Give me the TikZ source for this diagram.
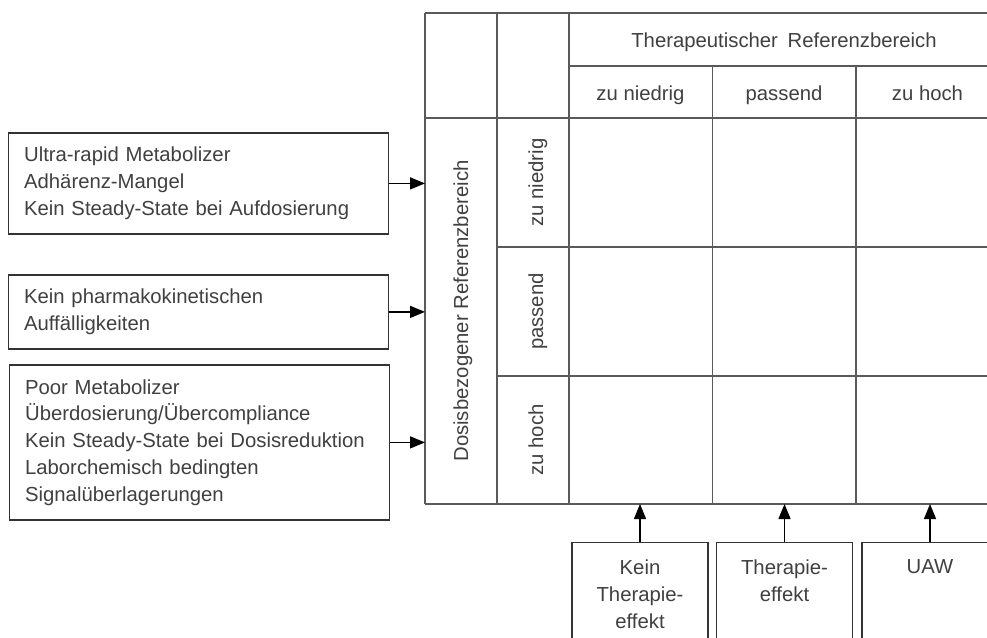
\documentclass[tikz,border=0pt]{standalone}
\usepackage{fontspec}
\setmainfont{Liberation Sans}
\usetikzlibrary{arrows.meta}
\definecolor{gridc}{HTML}{5A5A5A}
\definecolor{boxc}{HTML}{333333}
\definecolor{txtc}{HTML}{404040}
\newcommand{\dfs}{\fontsize{20.3}{26.7}\selectfont}
\begin{document}
\begin{tikzpicture}[x=1pt,y=-1pt,
  gridline/.style={draw=gridc, line width=1.6pt},
  lbox/.style={draw=boxc, line width=1.2pt, anchor=north west, text width=348pt,
    inner xsep=16pt, inner ysep=0pt, align=left, font=\dfs, text=txtc},
  bbox/.style={draw=boxc, line width=1.2pt, minimum width=136pt, minimum height=120pt,
    anchor=north, inner sep=0pt},
  txt/.style={text=txtc, font=\dfs, inner sep=0pt},
  arr/.style={draw=black, line width=1.4pt, -{Triangle[length=15pt,width=12pt]}}]
\useasboundingbox (0,0) rectangle (987,637);
\clip (0,0) rectangle (987,637);
\fill[white] (0,0) rectangle (987,637);

% table corners
\coordinate (tl) at (425,13);
\coordinate (bl) at (425,504);

% table grid
\draw[gridline] (425,13) -- (1000,13);
\draw[gridline] (569,66) -- (1000,66);
\draw[gridline] (425,118) -- (1000,118);
\draw[gridline] (497,247) -- (1000,247);
\draw[gridline] (497,376) -- (1000,376);
\draw[gridline] (425,504) -- (1000,504);
\draw[gridline] (425,13) -- (425,504);
\draw[gridline] (497,13) -- (497,504);
\draw[gridline] (569,13) -- (569,504);
\draw[gridline] (712.5,66) -- (712.5,504);
\draw[gridline] (856,66) -- (856,504);

% header texts
\node[txt, anchor=base] (ther) at (784,47.5) {Therapeutischer\hspace{0.2em} Referenzbereich};
\node[txt, anchor=base] (hlow) at (640.5,100) {zu niedrig};
\node[txt, anchor=base] (hok) at (784,100) {passend};
\node[txt, anchor=base] (hhigh) at (927.5,100) {zu hoch};

% row texts
\node[txt, rotate=90, anchor=base] (dosis) at (468,311) {Dosisbezogener Referenzbereich};
\node[txt, rotate=90, anchor=base] (rlow) at (543,182.5) {zu niedrig};
\node[txt, rotate=90, anchor=base] (rok) at (543,311.5) {passend};
\node[txt, rotate=90, anchor=base] (rhigh) at (543,440) {zu hoch};

% left boxes
\node[lbox, minimum height=101pt] (b1) at (7.5,132.3)
  {Ultra-rapid Metabolizer\\Adhärenz-Mangel\\Kein Steady-State bei Aufdosierung};
\node[lbox, minimum height=74pt] (b2) at (7.5,274.3)
  {Kein pharmakokinetischen\\Auffälligkeiten};
\node[lbox, minimum height=155pt] (b3) at (8.5,364.3)
  {Poor Metabolizer\\Überdosierung/Übercompliance\\Kein Steady-State bei Dosisreduktion\\Laborchemisch bedingten\\Signalüberlagerungen};

\draw[arr] (b1.east) -- (b1.east -| tl);
\draw[arr] (b2.east) -- (b2.east -| tl);
\draw[arr] (b3.east) -- (b3.east -| tl);

% bottom boxes
\node[bbox] (kb) at (640,541.7) {};
\node[bbox] (te) at (784.5,541.7) {};
\node[bbox] (uaw) at (930,541.7) {};
\node[txt, align=center, anchor=north] (kbt) at ([yshift=-18pt]kb.north) {Kein\\Therapie-\\effekt};
\node[txt, align=center, anchor=north] (tet) at ([yshift=-18pt]te.north) {Therapie-\\effekt};
\node[txt, align=center, anchor=north] (uawt) at ([yshift=-18pt]uaw.north) {UAW};

\draw[arr] (kb.north) -- (kb.north |- bl);
\draw[arr] (te.north) -- (te.north |- bl);
\draw[arr] (uaw.north) -- (uaw.north |- bl);
\end{tikzpicture}
\end{document}
